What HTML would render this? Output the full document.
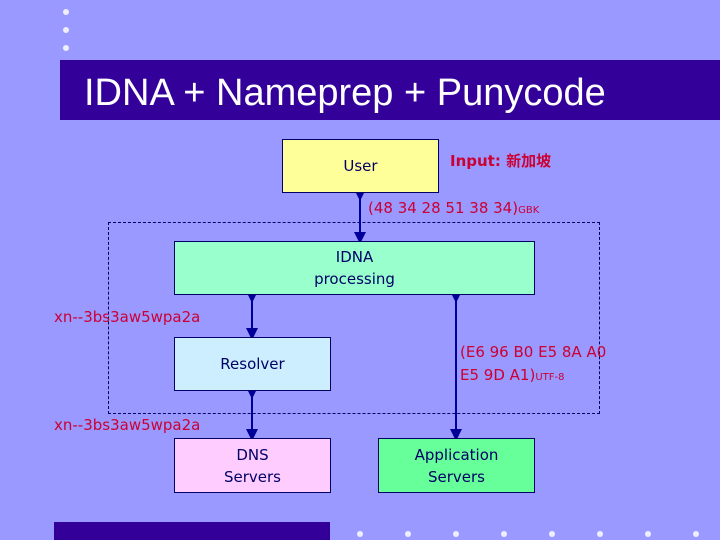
<!DOCTYPE html>
<html><head><meta charset="utf-8"><style>
body{margin:0;width:720px;height:540px;background:#9999ff;position:relative;overflow:hidden;font-family:"DejaVu Sans","Liberation Sans","Noto Sans CJK SC",sans-serif}
.a{position:absolute}
.dot{position:absolute;width:6px;height:6px;border-radius:50%;background:#eeeeff}
.box{position:absolute;border:1px solid #000066;box-sizing:border-box;display:flex;align-items:center;justify-content:center;text-align:center;color:#000066;font-size:15px;line-height:22px}
.red{position:absolute;color:#cc0033;font-size:15px;white-space:nowrap}
</style></head><body>
<div class="dot" style="left:63px;top:9px"></div>
<div class="dot" style="left:63px;top:27px"></div>
<div class="dot" style="left:63px;top:45px"></div>
<div class="a" style="left:60px;top:60px;width:660px;height:60px;background:#330099"></div>
<div class="a" style="left:84px;top:71px;color:#fff;font-family:'Liberation Sans',sans-serif;font-size:38px;line-height:44px;white-space:nowrap">IDNA + Nameprep + Punycode</div>
<div class="a" style="left:108px;top:222px;width:492px;height:192px;border:1px dashed #000066;box-sizing:border-box"></div>
<svg class="a" style="left:0;top:0" width="720" height="540">
<defs><marker id="m" markerWidth="6" markerHeight="6" refX="3" refY="3" orient="auto"><path d="M0,0L6,3L0,6z" fill="#000099"/></marker></defs>
<g stroke="#000099" stroke-width="2" marker-start="url(#m)" marker-end="url(#m)">
<line x1="360" y1="195" x2="360" y2="238"/>
<line x1="252" y1="297" x2="252" y2="334"/>
<line x1="252" y1="393" x2="252" y2="435"/>
<line x1="456" y1="297" x2="456" y2="435"/>
</g></svg>
<div class="box" style="left:282px;top:139px;width:157px;height:54px;background:#ffff99">User</div>
<div class="box" style="left:174px;top:241px;width:361px;height:54px;background:#99ffcc">IDNA<br>processing</div>
<div class="box" style="left:174px;top:337px;width:157px;height:54px;background:#cceeff">Resolver</div>
<div class="box" style="left:174px;top:438px;width:157px;height:55px;background:#ffccff">DNS<br>Servers</div>
<div class="box" style="left:378px;top:438px;width:157px;height:55px;background:#66ff99">Application<br>Servers</div>
<div class="red" style="left:450px;top:150px;font-weight:bold">Input: 新加坡</div>
<div class="red" style="left:368px;top:199px">(48 34 28 51 38 34)<span style="font-size:10px">GBK</span></div>
<div class="red" style="left:54px;top:308px">xn--3bs3aw5wpa2a</div>
<div class="red" style="left:54px;top:416px">xn--3bs3aw5wpa2a</div>
<div class="red" style="left:460px;top:341px;line-height:23px">(E6 96 B0 E5 8A A0<br>E5 9D A1)<span style="font-size:10px">UTF-8</span></div>
<div class="a" style="left:54px;top:522px;width:276px;height:18px;background:#330099"></div>
<div class="dot" style="left:357px;top:531px"></div><div class="dot" style="left:405px;top:531px"></div><div class="dot" style="left:453px;top:531px"></div><div class="dot" style="left:501px;top:531px"></div><div class="dot" style="left:549px;top:531px"></div><div class="dot" style="left:597px;top:531px"></div><div class="dot" style="left:645px;top:531px"></div><div class="dot" style="left:693px;top:531px"></div>
</body></html>
